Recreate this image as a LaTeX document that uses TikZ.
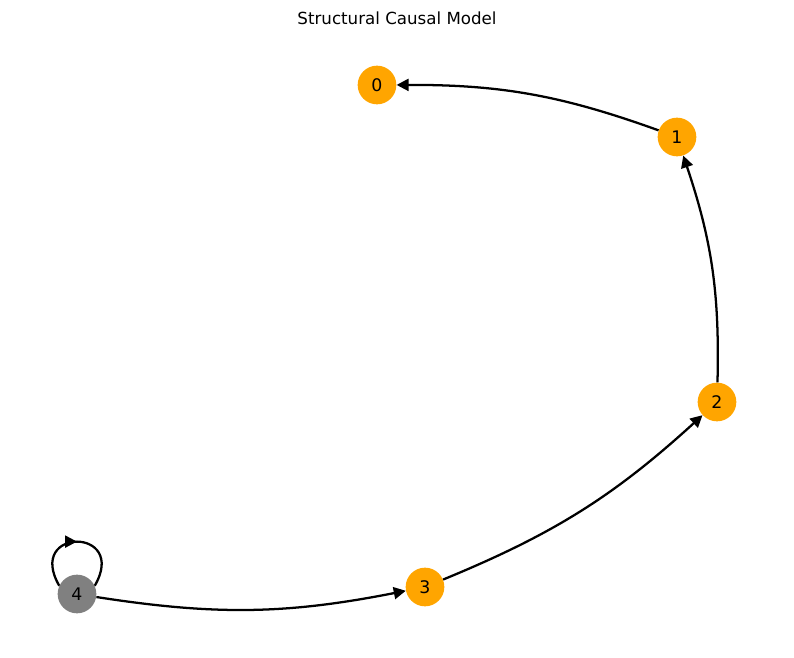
\documentclass[tikz,border=0pt]{standalone}
\usepackage{fontspec}
\setmainfont{DejaVu Sans}
\usetikzlibrary{arrows.meta,decorations.markings}
\definecolor{varorange}{HTML}{FFA500}
\definecolor{exogray}{HTML}{808080}

\begin{document}
\begin{tikzpicture}[x=0.75pt,y=0.75pt,var/.style={circle,fill=varorange,minimum size=29pt,inner sep=0pt,font=\fontsize{13}{15}\selectfont},exo/.style={var,fill=exogray},arr/.style={-{Triangle[length=9pt,width=9pt]},line width=1.7pt},selfloop/.style={line width=1.7pt,decoration={markings,mark=at position 0.5 with {\arrow{Triangle[length=9pt,width=9pt]}}},postaction={decorate}}]
\useasboundingbox (0,0) rectangle (794,658);
\node[font=\fontsize{12.5}{15}\selectfont] (title) at (397,640) {Structural Causal Model};
\node[var] (n0) at (377,573) {0};
\node[var] (n1) at (677,521) {1};
\node[var] (n2) at (717,256) {2};
\node[var] (n3) at (425,71) {3};
\node[exo] (n4) at (77,64) {4};
\draw[arr] (n1) to[bend right=10] (n0);\draw[arr] (n2) to[bend right=10] (n1);
\draw[arr] (n3) to[bend right=10] (n2);\draw[arr] (n4) to[bend right=10] (n3);
\draw[selfloop] (n4.155) to[out=120,in=60,looseness=4.9] (n4.25);
\end{tikzpicture}
\end{document}
